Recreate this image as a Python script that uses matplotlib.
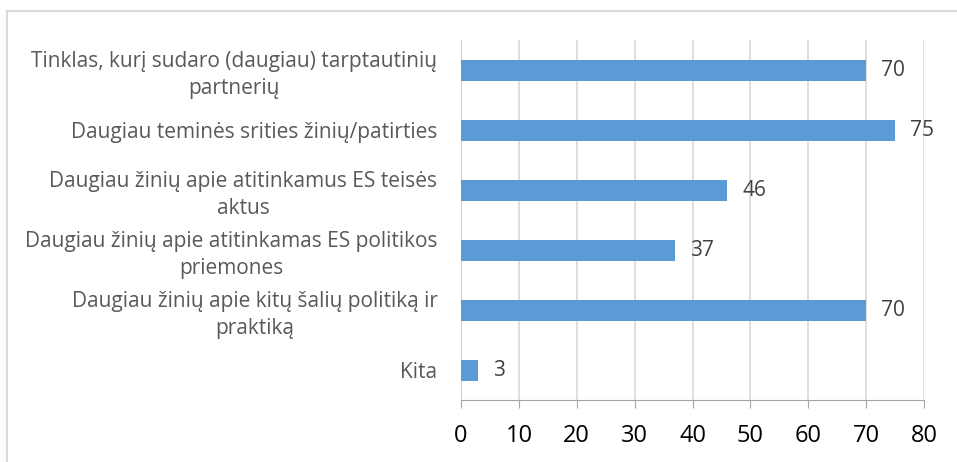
import matplotlib.pyplot as plt
from matplotlib.patches import Rectangle

categories = [
    "Tinklas, kurį sudaro (daugiau) tarptautinių\npartnerių",
    "Daugiau teminės srities žinių/patirties",
    "Daugiau žinių apie atitinkamus ES teisės\naktus",
    "Daugiau žinių apie atitinkamas ES politikos\npriemones",
    "Daugiau žinių apie kitų šalių politiką ir\npraktiką",
    "Kita",
]
values = [70, 75, 46, 37, 70, 3]
x_ticks = [0, 10, 20, 30, 40, 50, 60, 70, 80]

plt.rcParams['font.family'] = ['Open Sans', 'DejaVu Sans']

W, H = 957, 462
fig = plt.figure(figsize=(W / 100, H / 100), dpi=100)

# light grey chart frame (cut off on right/bottom like the original)
fig.patches.append(Rectangle((7 / W, -0.1), 1.1, (H - 11) / H + 0.1,
                             transform=fig.transFigure, fill=False,
                             edgecolor='#d9d9d9', linewidth=1.5))

ax = fig.add_axes([461 / W, (H - 400) / H, (924 - 461) / W, 360 / H])

ypos = list(range(len(categories)))
ax.barh(ypos, values, height=0.35, color='#5B9BD5', zorder=3)
for y, v in zip(ypos, values):
    ax.text(v + 2.6, y, str(v), va='center', ha='left', fontsize=15, color='#404040')

ax.set_xlim(0, 80)
ax.set_ylim(len(categories) - 0.5, -0.5)
ax.set_xticks(x_ticks)
ax.set_xticklabels([str(t) for t in x_ticks], fontsize=17, color='black')
ax.set_yticks(ypos)
ax.set_yticklabels(categories, fontsize=15, color='#595959',
                   multialignment='center', linespacing=1.35)
ax.tick_params(axis='y', length=0, pad=17)
ax.tick_params(axis='x', length=6, color='#a6a6a6', pad=11)

ax.grid(axis='x', color='#d9d9d9', linewidth=1.2, zorder=0)
for s in ['top', 'right']:
    ax.spines[s].set_visible(False)
ax.spines['left'].set_color('#d0d0d0')
ax.spines['bottom'].set_color('#a6a6a6')

fig.savefig('out.png', dpi=100)
